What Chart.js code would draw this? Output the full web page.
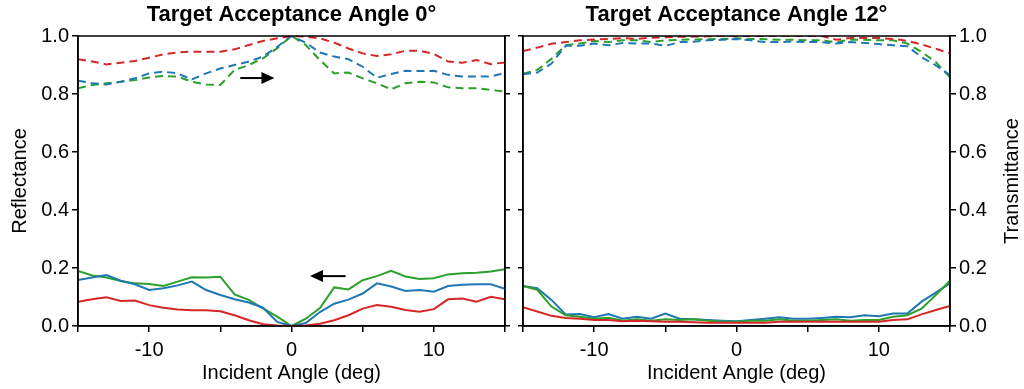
<!DOCTYPE html>
<html>
<head>
<meta charset="utf-8">
<script src="https://cdn.jsdelivr.net/npm/chart.js@4.4.1/dist/chart.umd.min.js"></script>
<style>
  html, body { margin: 0; padding: 0; background: #fff; }
  #wrap { position: relative; width: 1024px; height: 389px; }
  .panel { position: absolute; top: 0; width: 512px; height: 389px; }
</style>
</head>
<body>
<div id="wrap">
  <div class="panel" style="left:0"><canvas id="c0"></canvas></div>
  <div class="panel" style="left:512px"><canvas id="c1"></canvas></div>
</div>
<script>
// incident angle, deg
const angles = [-15,-14,-13,-12,-11,-10,-9,-8,-7,-6,-5,-4,-3,-2,-1,0,1,2,3,4,5,6,7,8,9,10,11,12,13,14,15];
const xTicks = [-10, 0, 10];
const yTicks = [0, 0.2, 0.4, 0.6, 0.8, 1.0];

// target acceptance angle 0 deg : transmittance (dashed), reflectance (solid)
const tRed0   = [0.920,0.912,0.902,0.908,0.914,0.925,0.937,0.943,0.946,0.946,0.946,0.954,0.969,0.983,0.992,1.000,0.998,0.992,0.977,0.957,0.940,0.931,0.937,0.949,0.949,0.938,0.912,0.908,0.917,0.903,0.909];
const tBlue0  = [0.846,0.837,0.833,0.842,0.854,0.871,0.877,0.871,0.850,0.871,0.888,0.900,0.912,0.929,0.963,1.000,0.977,0.943,0.929,0.920,0.894,0.856,0.869,0.880,0.879,0.880,0.866,0.860,0.860,0.860,0.873];
const tGreen0 = [0.820,0.831,0.837,0.842,0.848,0.857,0.862,0.860,0.842,0.833,0.831,0.883,0.900,0.923,0.958,1.000,0.969,0.917,0.871,0.874,0.854,0.837,0.816,0.837,0.842,0.840,0.823,0.820,0.820,0.814,0.808];
const rRed0   = [0.084,0.092,0.099,0.086,0.088,0.072,0.063,0.057,0.054,0.054,0.051,0.037,0.020,0.006,0.002,0.000,0.002,0.008,0.020,0.037,0.060,0.072,0.066,0.055,0.049,0.058,0.092,0.095,0.084,0.101,0.092];
const rBlue0  = [0.159,0.167,0.176,0.156,0.144,0.124,0.130,0.140,0.153,0.124,0.107,0.092,0.081,0.063,0.014,0.000,0.010,0.048,0.077,0.091,0.112,0.147,0.136,0.121,0.124,0.118,0.138,0.142,0.144,0.144,0.128];
const rGreen0 = [0.190,0.174,0.167,0.155,0.147,0.145,0.138,0.153,0.168,0.167,0.170,0.109,0.090,0.061,0.032,0.000,0.025,0.062,0.133,0.126,0.158,0.172,0.190,0.171,0.162,0.165,0.178,0.182,0.184,0.188,0.196];

// target acceptance angle 12 deg
const tRed1   = [0.948,0.960,0.973,0.979,0.985,0.988,0.990,0.993,0.990,0.994,0.996,0.997,0.998,0.999,1.000,1.000,1.000,1.000,1.000,1.000,1.000,1.000,0.987,0.993,0.993,0.993,0.990,0.983,0.971,0.956,0.940];
const tBlue1  = [0.868,0.874,0.905,0.966,0.966,0.974,0.968,0.976,0.974,0.974,0.966,0.979,0.980,0.985,0.987,0.990,0.985,0.979,0.979,0.981,0.979,0.979,0.974,0.979,0.976,0.972,0.968,0.965,0.927,0.899,0.865];
const tGreen1 = [0.870,0.883,0.921,0.968,0.974,0.983,0.979,0.985,0.985,0.979,0.985,0.987,0.988,0.989,0.990,0.992,0.990,0.989,0.987,0.987,0.985,0.985,0.979,0.987,0.987,0.985,0.985,0.974,0.945,0.910,0.858];
const rRed1   = [0.065,0.050,0.035,0.028,0.025,0.021,0.021,0.016,0.018,0.016,0.015,0.015,0.013,0.011,0.011,0.011,0.011,0.011,0.015,0.015,0.015,0.015,0.015,0.015,0.015,0.015,0.021,0.023,0.040,0.055,0.069];
const rBlue1  = [0.138,0.130,0.090,0.040,0.041,0.030,0.041,0.025,0.032,0.025,0.043,0.025,0.023,0.021,0.018,0.016,0.021,0.025,0.030,0.025,0.025,0.028,0.032,0.030,0.037,0.034,0.043,0.043,0.084,0.115,0.147];
const rGreen1 = [0.138,0.125,0.067,0.037,0.032,0.025,0.028,0.018,0.023,0.018,0.023,0.021,0.023,0.018,0.015,0.015,0.018,0.018,0.023,0.018,0.018,0.021,0.023,0.018,0.021,0.021,0.032,0.037,0.060,0.107,0.156];

// arrows in data units (x from, x to, y)
const arrows0 = [[-3.6, -1.2, 0.855], [3.8, 1.3, 0.172]];

const RED = '#d62728', BLUE = '#1f77b4', GREEN = '#2ca02c';
const FONT = "'Liberation Sans', Arial, sans-serif";

function pts(arr) { return angles.map((a, i) => ({ x: a, y: arr[i] })); }
function ds(arr, color, dashed) {
  return { data: pts(arr), borderColor: color, borderWidth: 2, borderDash: dashed ? [8, 5] : [],
           pointRadius: 0, tension: 0, fill: false };
}

// box around the plot + texts that chart.js can't place the way we want
const framePlugin = {
  id: 'frame',
  afterDraw(chart, args, o) {
    const { ctx, chartArea: a } = chart;
    ctx.save();
    ctx.strokeStyle = '#000'; ctx.lineWidth = 1.5;
    ctx.strokeRect(a.left, a.top, a.right - a.left, a.bottom - a.top);
    ctx.fillStyle = '#000';
    ctx.textAlign = 'center'; ctx.textBaseline = 'middle';
    ctx.font = 'bold 22px ' + FONT;
    ctx.fillText(o.title, (a.left + a.right) / 2, 15);
    ctx.font = '20px ' + FONT;
    ctx.fillText('Incident Angle (deg)', (a.left + a.right) / 2, 373);
    ctx.translate(o.yTitleX, (a.top + a.bottom) / 2);
    ctx.rotate(-Math.PI / 2);
    ctx.fillText(o.yTitle, 0, 0);
    ctx.restore();
    const xs = chart.scales.x, ys = chart.scales.y;
    (o.arrows || []).forEach(([x0, x1, y]) => {
      const p0 = xs.getPixelForValue(x0), p1 = xs.getPixelForValue(x1), py = ys.getPixelForValue(y);
      const dir = Math.sign(p1 - p0);
      ctx.save();
      ctx.strokeStyle = '#000'; ctx.fillStyle = '#000'; ctx.lineWidth = 2;
      ctx.beginPath(); ctx.moveTo(p0, py); ctx.lineTo(p1 - dir * 10, py); ctx.stroke();
      ctx.beginPath(); ctx.moveTo(p1, py); ctx.lineTo(p1 - dir * 13, py - 6); ctx.lineTo(p1 - dir * 13, py + 6);
      ctx.closePath(); ctx.fill();
      ctx.restore();
    });
  }
};

function makeChart(id, series, title, side) {
  const left = side === 'left';
  const tickGrid = len => ({ display: true, drawOnChartArea: false, drawTicks: true, tickLength: len, color: '#000', lineWidth: 1.5 });
  new Chart(document.getElementById(id), {
    type: 'line',
    data: { datasets: series },
    options: {
      responsive: true, maintainAspectRatio: false, animation: false,
      layout: { padding: { top: 36, left: 0, right: 0, bottom: 0 } },
      plugins: {
        legend: { display: false }, tooltip: { enabled: false },
        frame: { title: title, yTitle: left ? 'Reflectance' : 'Transmittance', yTitleX: left ? 20 : 500,
                 arrows: left ? arrows0 : [] }
      },
      scales: {
        x: {
          type: 'linear', min: -15, max: 15,
          afterBuildTicks: s => { s.ticks = [-15, -10, -5, 0, 5, 10, 15].map(v => ({ value: v })); },
          ticks: { autoSkip: false, maxRotation: 0, padding: 6, color: '#000', font: { size: 20, family: FONT },
                   callback: v => xTicks.includes(v) ? String(v) : '' },
          grid: tickGrid(6), border: { color: '#000', width: 1.5 },
          afterFit: s => { s.height = 63; }
        },
        y: {
          position: 'left', min: 0, max: 1,
          afterBuildTicks: s => { s.ticks = yTicks.map(v => ({ value: v })); },
          ticks: { display: left, padding: 3, color: '#000', font: { size: 20, family: FONT },
                   callback: v => v.toFixed(1) },
          grid: tickGrid(left ? 6 : 5), border: { color: '#000', width: 1.5 },
          afterFit: s => { s.width = left ? 78 : 11; }
        },
        y2: {
          position: 'right', min: 0, max: 1,
          afterBuildTicks: s => { s.ticks = yTicks.map(v => ({ value: v })); },
          ticks: { display: !left, padding: 3, color: '#000', font: { size: 20, family: FONT },
                   callback: v => v.toFixed(1) },
          grid: tickGrid(left ? 5 : 6), border: { color: '#000', width: 1.5 },
          afterFit: s => { s.width = left ? 7 : 74; }
        }
      }
    },
    plugins: [framePlugin]
  });
}

makeChart('c0', [
  ds(tRed0, RED, true), ds(tBlue0, BLUE, true), ds(tGreen0, GREEN, true),
  ds(rRed0, RED, false), ds(rBlue0, BLUE, false), ds(rGreen0, GREEN, false)
], 'Target Acceptance Angle 0°', 'left');

makeChart('c1', [
  ds(tRed1, RED, true), ds(tBlue1, BLUE, true), ds(tGreen1, GREEN, true),
  ds(rRed1, RED, false), ds(rGreen1, GREEN, false), ds(rBlue1, BLUE, false)
], 'Target Acceptance Angle 12°', 'right');
</script>
</body>
</html>
